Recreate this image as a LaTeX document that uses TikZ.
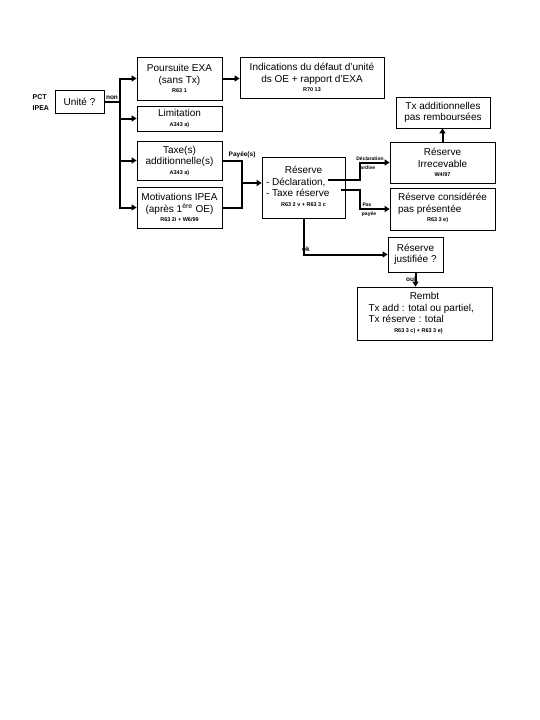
\documentclass[tikz,border=0pt]{standalone}
\usepackage{fontspec}
\setmainfont{Liberation Sans}
\usetikzlibrary{arrows.meta}
\newcommand\mainfnt{\fontsize{10}{11.5}\selectfont}
\newcommand\rfnt{\fontsize{5.5}{6}\selectfont\bfseries}
\newcommand\lfnt{\fontsize{6.5}{7}\selectfont\bfseries}
\newcommand\tfnt{\fontsize{5}{5.5}\selectfont\bfseries}
\begin{document}
\begin{tikzpicture}[x=1pt,y=-1pt,
  box/.style={draw, line width=0.8pt, inner sep=0pt, align=center, font=\mainfnt},
  conn/.style={line width=2pt},
  arr/.style={conn,-{Triangle[length=5pt,width=6pt]}},
  lab/.style={inner sep=0.5pt, font=\lfnt},
  tlab/.style={inner sep=0pt, font=\tfnt}]
\useasboundingbox (0,0) rectangle (540,720);

% boxes
\node[box, minimum width=49pt, minimum height=23pt] (unite) at (79.5,101.5) {Unité ?};
\node[box, minimum width=85pt, minimum height=43pt] (pours) at (179.5,78.5) {Poursuite EXA\\(sans Tx)\\[-2pt]{\rfnt R63 1}};
\node[box, minimum width=144pt, minimum height=41pt] (indic) at (312,77.5) {Indications du défaut d'unité\\ds OE + rapport d'EXA\\[-2pt]{\rfnt R70 13}};
\node[box, minimum width=94pt, minimum height=31pt] (txadd) at (443,112.5) {Tx additionnelles\\pas remboursées};
\node[box, minimum width=85pt, minimum height=25pt] (limit) at (179.5,118.5) {Limitation\\[-2pt]{\rfnt A343 a)}};
\node[box, minimum width=85pt, minimum height=39pt] (taxe) at (179.5,160.5) {Taxe(s)\\additionnelle(s)\\[-2pt]{\rfnt A343 a)}};
\node[box, minimum width=85pt, minimum height=41pt] (motiv) at (179.5,207.5) {Motivations IPEA\\(après 1\textsuperscript{ère} OE)\\[-2pt]{\rfnt R63 2i + W6/99}};
\node[box, minimum width=83pt, minimum height=61pt] (res) at (303.5,187.5) {\begin{tabular}{@{}l@{}}\makebox[75pt][c]{Réserve}\\- Déclaration,\\- Taxe réserve\\[-2pt]\makebox[75pt][c]{\rfnt R63 2 v + R63 3 c}\end{tabular}};
\node[box, minimum width=105pt, minimum height=41pt] (irrec) at (442.5,162.5) {Réserve\\Irrecevable\\[-2pt]{\rfnt W4/97}};
\node[box, minimum width=105pt, minimum height=42pt] (consid) at (442.5,209) {\begin{tabular}{@{}l@{}}Réserve considérée\\pas présentée\\[-2pt]\hspace*{29pt}{\rfnt R63 3 e)}\end{tabular}};
\node[box, minimum width=55pt, minimum height=35pt] (justif) at (415.5,254.5) {Réserve\\justifiée ?};
\node[box, minimum width=135pt, minimum height=53pt] (rembt) at (424.5,313.5) {\begin{tabular}{@{}l@{}}\makebox[112pt][c]{Rembt}\\Tx add : total ou partiel,\\Tx réserve : total\\[-2pt]\makebox[100pt][c]{\rfnt R63 3 c) + R63 3 e)}\end{tabular}};

% side labels
\node[lab, anchor=west, font=\fontsize{7}{8}\selectfont\bfseries] (pct) at (32,97) {PCT};
\node[lab, anchor=west, font=\fontsize{7}{8}\selectfont\bfseries] (ipea) at (32,108) {IPEA};

% junction coordinates
\coordinate (jt) at (120,101.5);
\coordinate (jr) at (242,183);
\coordinate (decl) at (328,179.5);
\coordinate (bd) at (360,179.5);
\coordinate (taxr) at (341,190);
\coordinate (bt) at (360,190);

% connectors
\draw[conn] (unite.east) -- (jt);
\draw[arr] (jt) |- (pours.west);
\draw[arr] (jt) |- (limit.west);
\draw[arr] (jt) |- (taxe.west);
\draw[arr] (jt) |- (motiv.west);
\draw[arr] (pours.east) -- (pours.east -| indic.west);
\draw[conn] (taxe.east) -| (jr);
\draw[conn] (motiv.east) -| (jr);
\draw[arr] (jr) -- (jr -| res.west);
\draw[arr] (decl) -- (bd) |- (irrec.west);
\draw[arr] (taxr) -- (bt) |- (consid.west);
\draw[arr] (irrec.north) -- (irrec.north |- txadd.south);
\draw[arr] (res.south) |- (justif.west);
\draw[arr] (justif.south) -- (justif.south |- rembt.north);

% connector labels
\node[lab, anchor=south] (lnon) at (112,100) {non};
\node[lab, anchor=south west] (lpay) at (228,159) {Payée(s)};
\node[tlab] (ldecl) at (370,159) {Déclaration};
\node[tlab] (ltard) at (367,168) {tardive};
\node[tlab] (lpas) at (367,205) {Pas};
\node[tlab] (lpayee) at (369,214.5) {payée};
\node[lab] (lok) at (306,249) {ok};
\node[lab] (loui) at (411,279) {oui};
\end{tikzpicture}
\end{document}
